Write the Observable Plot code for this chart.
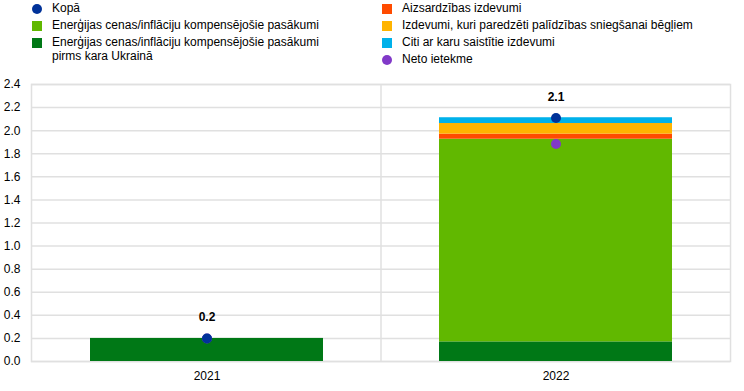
<!DOCTYPE html>
<html>
<head>
<meta charset="utf-8">
<script src="https://cdn.jsdelivr.net/npm/d3@7"></script>
<script src="https://cdn.jsdelivr.net/npm/@observablehq/plot@0.6"></script>
<style>
  html, body { margin: 0; padding: 0; background: #fff; }
  #wrap { position: relative; width: 744px; font-family: Arial, "Liberation Sans", sans-serif; font-size: 12px; color: #000; }
  #legend { position: relative; height: 70px; }
  .li { position: absolute; display: flex; align-items: flex-start; line-height: 14px; }
  .mk { position: absolute; width: 10px; height: 10px; }
  .tx { position: absolute; white-space: nowrap; }
</style>
</head>
<body>
<div id="wrap">
  <div id="legend"></div>
  <div id="chart"></div>
</div>
<script>
// ---- data ----
const years = ["2021", "2022"];
const seriesNames = [
  "Enerģijas cenas/inflāciju kompensējošie pasākumi pirms kara Ukrainā",
  "Enerģijas cenas/inflāciju kompensējošie pasākumi",
  "Aizsardzības izdevumi",
  "Izdevumi, kuri paredzēti palīdzības sniegšanai bēgļiem",
  "Citi ar karu saistītie izdevumi"
];
const seriesColors = ["#007816", "#61b800", "#ff4b00", "#ffb400", "#00b1ea"];
const preWar   = [0.20, 0.17];
const energy   = [0.00, 1.756];
const defence  = [0.00, 0.044];
const refugees = [0.00, 0.092];
const otherWar = [0.00, 0.05];
const total    = [0.20, 2.11];
const net      = [0.20, 1.885];
const totalLabels = ["0.2", "2.1"];
const yTicks = [0, 0.2, 0.4, 0.6, 0.8, 1.0, 1.2, 1.4, 1.6, 1.8, 2.0, 2.2, 2.4];
const totalName = "Kopā";
const netName = "Neto ietekme";
const totalColor = "#003299";
const netColor = "#8139c8";

// ---- legend (HTML) ----
const legendItems = [
  {name: totalName, color: totalColor, shape: "circle", col: 0, row: 0},
  {name: seriesNames[1], color: seriesColors[1], shape: "square", col: 0, row: 1},
  {name: "Enerģijas cenas/inflāciju kompensējošie pasākumi<br>pirms kara Ukrainā", color: seriesColors[0], shape: "square", col: 0, row: 2},
  {name: seriesNames[2], color: seriesColors[2], shape: "square", col: 1, row: 0},
  {name: seriesNames[3], color: seriesColors[3], shape: "square", col: 1, row: 1},
  {name: seriesNames[4], color: seriesColors[4], shape: "square", col: 1, row: 2},
  {name: netName, color: netColor, shape: "circle", col: 1, row: 3}
];
const legend = document.getElementById("legend");
const colX = [32, 381.5];
const textX = [52, 402];
const rowY = [8.5, 25.5, 42.5, 59.5];
for (const it of legendItems) {
  const mk = document.createElement("div");
  mk.className = "mk";
  mk.style.left = colX[it.col] + "px";
  mk.style.top = (rowY[it.row] - 5) + "px";
  mk.style.background = it.color;
  if (it.shape === "circle") mk.style.borderRadius = "50%";
  legend.appendChild(mk);
  const tx = document.createElement("div");
  tx.className = "tx";
  tx.style.left = textX[it.col] + "px";
  tx.style.top = (rowY[it.row] - 7.5) + "px";
  tx.style.lineHeight = "14px";
  tx.innerHTML = it.name;
  legend.appendChild(tx);
}

// ---- tidy data ----
const stackData = [];
const seriesArrays = [preWar, energy, defence, refugees, otherWar];
years.forEach((yr, i) => {
  seriesArrays.forEach((arr, s) => {
    stackData.push({year: yr, series: seriesNames[s], order: s, value: arr[i]});
  });
});
const dots = years.map((yr, i) => ({year: yr, total: total[i], net: net[i], label: totalLabels[i]}));

// separator between categories (computed from band scale)
function separator(index, scales, values, dimensions) {
  const x = scales.x;
  const step = x("2022") - x("2021");
  const gap = step - x.bandwidth();
  const sx = x("2022") - gap / 2;
  const g = d3.create("svg:g");
  g.append("line")
    .attr("x1", sx).attr("x2", sx)
    .attr("y1", dimensions.marginTop).attr("y2", dimensions.height - dimensions.marginBottom)
    .attr("stroke", "#e0e0e0").attr("stroke-width", 1.5);
  return g.node();
}

const chart = Plot.plot({
  width: 744,
  height: 321,
  marginLeft: 31,
  marginRight: 14,
  marginTop: 14,
  marginBottom: 30,
  style: {fontFamily: "Arial, 'Liberation Sans', sans-serif", fontSize: "12px", color: "#000", background: "#fff"},
  x: {domain: years, paddingInner: 0.333, paddingOuter: 0.1667, label: null, tickSize: 0, tickPadding: 10},
  y: {domain: [0, 2.4], ticks: yTicks, tickFormat: d3.format(".1f"), label: null, tickSize: 0, tickPadding: 11},
  color: {domain: seriesNames, range: seriesColors},
  marks: [
    Plot.ruleY(yTicks, {stroke: "#e0e0e0", strokeWidth: 1.5}),
    Plot.frame({stroke: "#e0e0e0", strokeWidth: 1.5}),
    separator,
    Plot.barY(stackData, Plot.stackY({x: "year", y: "value", fill: "series", z: "series", order: "order", inset: 0})),
    Plot.dot(dots, {x: "year", y: "net", r: 5, fill: netColor}),
    Plot.dot(dots, {x: "year", y: "total", r: 5, fill: totalColor}),
    Plot.text(dots, {x: "year", y: "total", text: "label", dy: -21, fontWeight: "bold", fontSize: 12, fill: "#000"})
  ]
});
document.getElementById("chart").appendChild(chart);
</script>
</body>
</html>
